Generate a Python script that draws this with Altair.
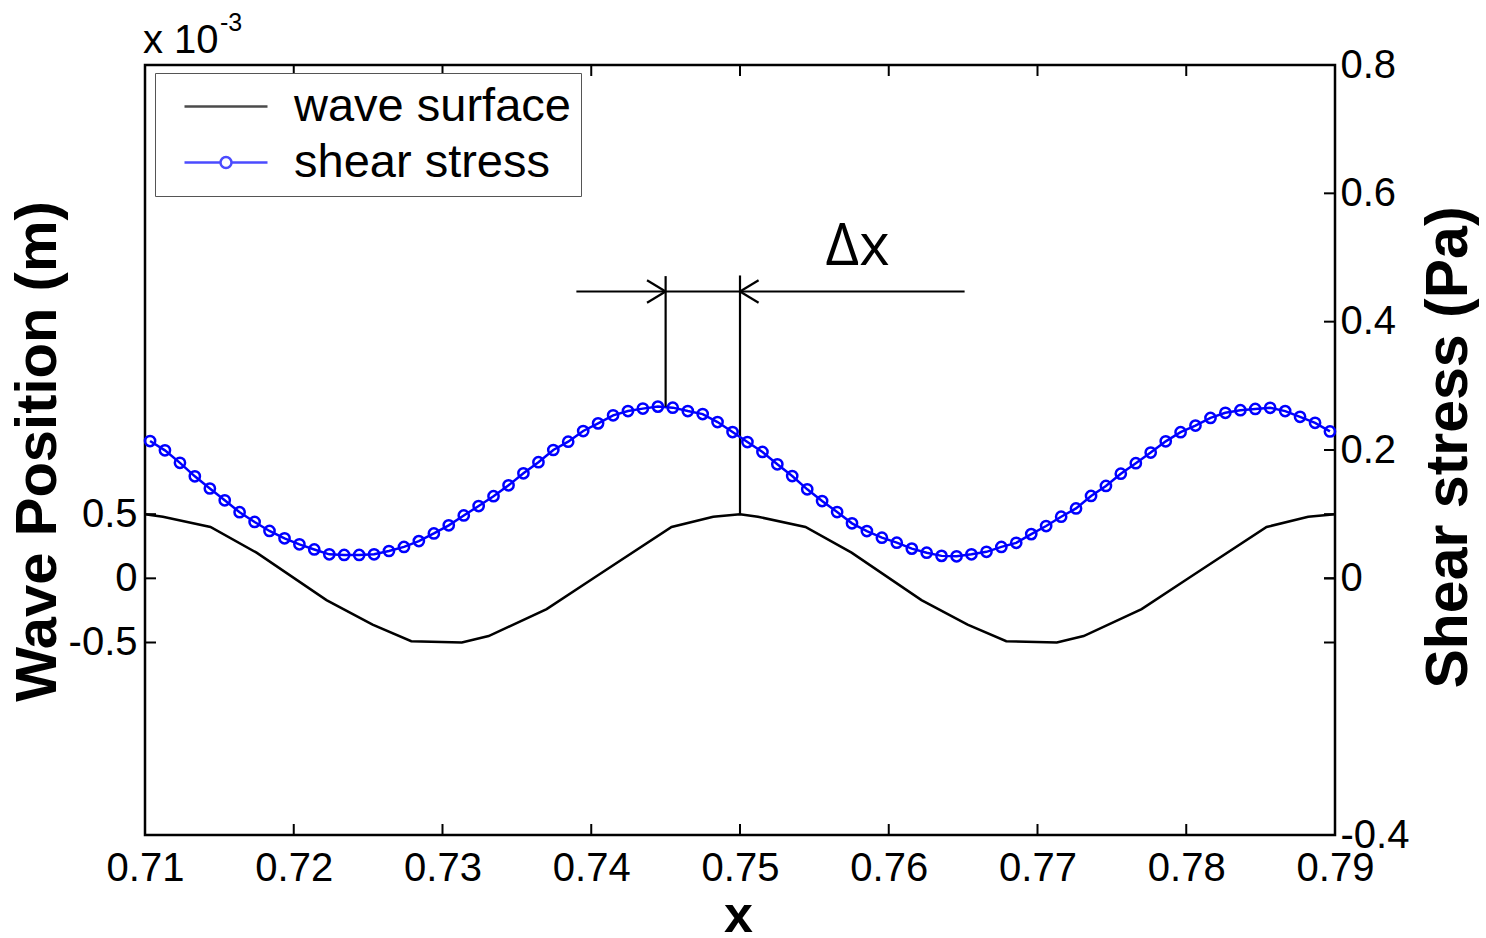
import altair as alt
import numpy as np
import pandas as pd

# ---------------- data ----------------
x_ticks = [0.71, 0.72, 0.73, 0.74, 0.75, 0.76, 0.77, 0.78, 0.79]
wave_ticks = [-0.5, 0.0, 0.5]                 # x 1e-3 m
shear_ticks = [-0.4, 0.0, 0.2, 0.4, 0.6, 0.8]  # Pa

# wave surface (x 1e-3 m), read at the kinks of the drawn polyline
wave_x = [0.7100, 0.7112, 0.7144, 0.7175, 0.7222, 0.7253, 0.7279, 0.7313, 0.7331,
          0.7370, 0.7404, 0.7454, 0.7482, 0.7500, 0.7512, 0.7544, 0.7575, 0.7622,
          0.7653, 0.7679, 0.7713, 0.7731, 0.7770, 0.7804, 0.7854, 0.7882, 0.7900]
wave_y = [0.50, 0.48, 0.40, 0.20, -0.17, -0.36, -0.49, -0.50, -0.45,
          -0.24, 0.02, 0.40, 0.48, 0.50, 0.48, 0.40, 0.20, -0.17,
          -0.36, -0.49, -0.50, -0.45, -0.24, 0.02, 0.40, 0.48, 0.50]

# shear stress (Pa), one value per marker
shear_x = list(np.round(np.linspace(0.71034, 0.78966, 80), 5))
shear_y = [0.214, 0.1995, 0.180, 0.159, 0.140, 0.1216, 0.103, 0.0878, 0.0738, 0.0623,
           0.053, 0.045, 0.0374, 0.0364, 0.0364, 0.0374, 0.0426, 0.049, 0.058, 0.070,
           0.0826, 0.098, 0.1127, 0.128, 0.145, 0.1636, 0.181, 0.200, 0.213, 0.2296,
           0.2415, 0.254, 0.2607, 0.2645, 0.2676, 0.266, 0.2607, 0.256, 0.2436, 0.228,
           0.2124, 0.197, 0.1777, 0.1594, 0.1387, 0.1205, 0.1033, 0.0857, 0.0737, 0.0634,
           0.0556, 0.0463, 0.040, 0.035, 0.0344, 0.0375, 0.0413, 0.049, 0.0553, 0.0689,
           0.0815, 0.096, 0.109, 0.1284, 0.144, 0.163, 0.1795, 0.196, 0.2135, 0.2277,
           0.238, 0.250, 0.258, 0.262, 0.264, 0.2657, 0.2606, 0.2517, 0.2423, 0.229]

series_names = ["wave surface", "shear stress"]
series_colors = ["black", "blue"]

# Delta-x annotation (data units)
shear_peak_x = 0.745
wave_peak_x = 0.75
dim_line_y = 0.447          # Pa scale
dim_line_x = [0.7390, 0.7651]
dim_top_y = 0.471           # Pa scale
dim_top_w = 2.36            # wave scale (x 1e-3 m)
shear_peak_y = 0.2676
wave_peak_w = 0.5
arrow_dx = 0.00125
arrow_dy = 0.0175
label_pos = (0.7579, 0.489)

# ---------------- frames ----------------
wave_df = pd.DataFrame({"x": wave_x, "w": wave_y})
shear_df = pd.DataFrame({"x": shear_x, "s": shear_y})
wt_df = pd.DataFrame({"w": wave_ticks})
st_df = pd.DataFrame({"s": shear_ticks})
xt_df = pd.DataFrame({"x": x_ticks})
legend_df = pd.DataFrame({"series": series_names})

seg_df = pd.DataFrame({
    "x": [shear_peak_x, dim_line_x[0],
          shear_peak_x, shear_peak_x, wave_peak_x, wave_peak_x],
    "x2": [shear_peak_x, dim_line_x[1],
           shear_peak_x - arrow_dx, shear_peak_x - arrow_dx,
           wave_peak_x + arrow_dx, wave_peak_x + arrow_dx],
    "s": [shear_peak_y, dim_line_y, dim_line_y, dim_line_y, dim_line_y, dim_line_y],
    "s2": [dim_top_y, dim_line_y,
           dim_line_y + arrow_dy, dim_line_y - arrow_dy,
           dim_line_y + arrow_dy, dim_line_y - arrow_dy],
})
vline_df = pd.DataFrame({"x": [wave_peak_x], "w": [wave_peak_w], "w2": [dim_top_w]})
lab_df = pd.DataFrame({"x": [label_pos[0]], "s": [label_pos[1]], "t": ["\u0394x"]})

# ---------------- scales / axes ----------------
FONT = "Liberation Sans"
W, H = 1190, 770
TL = 11

x_scale = alt.Scale(domain=[0.71, 0.79], nice=False, zero=False)
w_scale = alt.Scale(domain=[-2, 4], nice=False, zero=False)
s_scale = alt.Scale(domain=[-0.4, 0.8], nice=False, zero=False)

minus_expr = "datum.value < 0 ? '-' + format(-datum.value, '~g') : format(datum.value, '~g')"

x_axis = alt.Axis(values=x_ticks, format=".2f", title="x", ticks=False, tickSize=0,
                  domain=False, grid=False, labelFont=FONT, labelFontSize=40,
                  labelColor="black", labelPadding=13, labelFlush=False, labelOverlap=False,
                  titleFont=FONT, titleFontSize=52, titleFontWeight="bold",
                  titleColor="black", titleX=593, titleY=96, titleBaseline="alphabetic")
w_axis = alt.Axis(values=wave_ticks, labelExpr=minus_expr, title="Wave Position  (m)",
                  orient="left", ticks=False, tickSize=0, domain=False, grid=False,
                  labelFont=FONT, labelFontSize=40, labelColor="black", labelPadding=8,
                  labelFlush=False, titleFont=FONT, titleFontSize=58, titleFontWeight="bold",
                  titleColor="black", titleAngle=270, titleX=-107, titleY=386,
                  titleBaseline="middle", titleAlign="center")
s_axis = alt.Axis(values=shear_ticks, labelExpr=minus_expr, title="Shear stress  (Pa)",
                  orient="right", ticks=False, tickSize=0, domain=False, grid=False,
                  labelFont=FONT, labelFontSize=40, labelColor="black", labelPadding=5,
                  labelFlush=False, labelOverlap=False, titleFont=FONT, titleFontSize=59,
                  titleFontWeight="bold", titleColor="black", titleAngle=270, titleX=113,
                  titleY=382, titleBaseline="middle", titleAlign="center")

X = alt.X("x:Q", scale=x_scale, axis=x_axis)
X2 = alt.X2("x2:Q")
YW = alt.Y("w:Q", scale=w_scale, axis=w_axis)
YS = alt.Y("s:Q", scale=s_scale, axis=s_axis)

# ---------------- group A: wave surface (left scale) ----------------
wave_line = alt.Chart(wave_df).mark_line(color="black", strokeWidth=2.5).encode(x=X, y=YW)
w_ticks_left = alt.Chart(wt_df).mark_rule(color="black", strokeWidth=2).encode(
    x=alt.value(0), x2=alt.value(TL), y=YW)
w_ticks_right = alt.Chart(wt_df).mark_rule(color="black", strokeWidth=2).encode(
    x=alt.value(W), x2=alt.value(W - TL), y=YW)
wave_vline = alt.Chart(vline_df).mark_rule(color="black", strokeWidth=2.2).encode(
    x=X, y=YW, y2=alt.Y2("w2:Q"))
group_a = alt.layer(wave_line, w_ticks_left, w_ticks_right, wave_vline)

# ---------------- group B: shear stress (right scale) ----------------
shear_line = alt.Chart(shear_df).mark_line(color="blue", strokeWidth=2.5).encode(x=X, y=YS)
shear_pts = alt.Chart(shear_df).mark_point(shape="circle", filled=False, color="blue",
                                           size=105, strokeWidth=2.5, opacity=1).encode(x=X, y=YS)
s_ticks = alt.Chart(st_df).mark_rule(color="black", strokeWidth=2).encode(
    x=alt.value(W), x2=alt.value(W - TL), y=YS)
x_ticks_bot = alt.Chart(xt_df).mark_rule(color="black", strokeWidth=2).encode(
    x=X, y=alt.value(H), y2=alt.value(H - TL))
x_ticks_top = alt.Chart(xt_df).mark_rule(color="black", strokeWidth=2).encode(
    x=X, y=alt.value(0), y2=alt.value(TL))
segs = alt.Chart(seg_df).mark_rule(color="black", strokeWidth=2.2).encode(
    x=X, x2=X2, y=YS, y2=alt.Y2("s2:Q"))
dx_label = alt.Chart(lab_df).mark_text(font="Open Sans", fontSize=58, color="black",
                                       align="center", baseline="alphabetic").encode(
    x=X, y=YS, text="t:N")
exp_a = alt.Chart(legend_df.head(1)).mark_text(font=FONT, fontSize=40, color="black",
                                              align="left", baseline="alphabetic").encode(
    x=alt.value(-2), y=alt.value(-12), text=alt.value("x 10"))
exp_b = alt.Chart(legend_df.head(1)).mark_text(font=FONT, fontSize=25, color="black",
                                              align="left", baseline="alphabetic").encode(
    x=alt.value(75), y=alt.value(-34), text=alt.value("-3"))

path_wave = "M-0.4,0L7.9,0"
path_shear = ("M-0.4,0L3.2,0M4.3,0L7.9,0M4.3,0A0.55,0.55,0,1,1,3.2,0"
              "A0.55,0.55,0,1,1,4.3,0")
leg = alt.Legend(orient="none", legendX=10, legendY=8, title=None,
                 labelFont=FONT, labelFontSize=47, labelColor="black",
                 labelLimit=700, labelOffset=82, padding=10,
                 rowPadding=8, symbolSize=400, symbolStrokeWidth=2.5,
                 strokeColor="#555555", fillColor="white", cornerRadius=0)
legend_pts = alt.Chart(legend_df).mark_point(filled=False, clip=True, strokeWidth=2.5).encode(
    x=alt.value(-600), y=alt.value(-600),
    color=alt.Color("series:N", scale=alt.Scale(domain=series_names, range=series_colors),
                    legend=leg),
    shape=alt.Shape("series:N", scale=alt.Scale(domain=series_names,
                                                range=[path_wave, path_shear]),
                    legend=leg),
)

group_b = alt.layer(shear_line, shear_pts, s_ticks, x_ticks_bot, x_ticks_top, segs,
                    dx_label, exp_a, exp_b, legend_pts)

chart = alt.layer(group_a, group_b).resolve_scale(y="independent").properties(
    width=W, height=H, autosize=alt.AutoSizeParams(type="none"),
    padding={"left": 145, "top": 65, "right": 151, "bottom": 103},
    background="white",
).configure_view(stroke="black", strokeWidth=2.5)

chart.save("out.html", embed_options={"renderer": "svg", "actions": False})
